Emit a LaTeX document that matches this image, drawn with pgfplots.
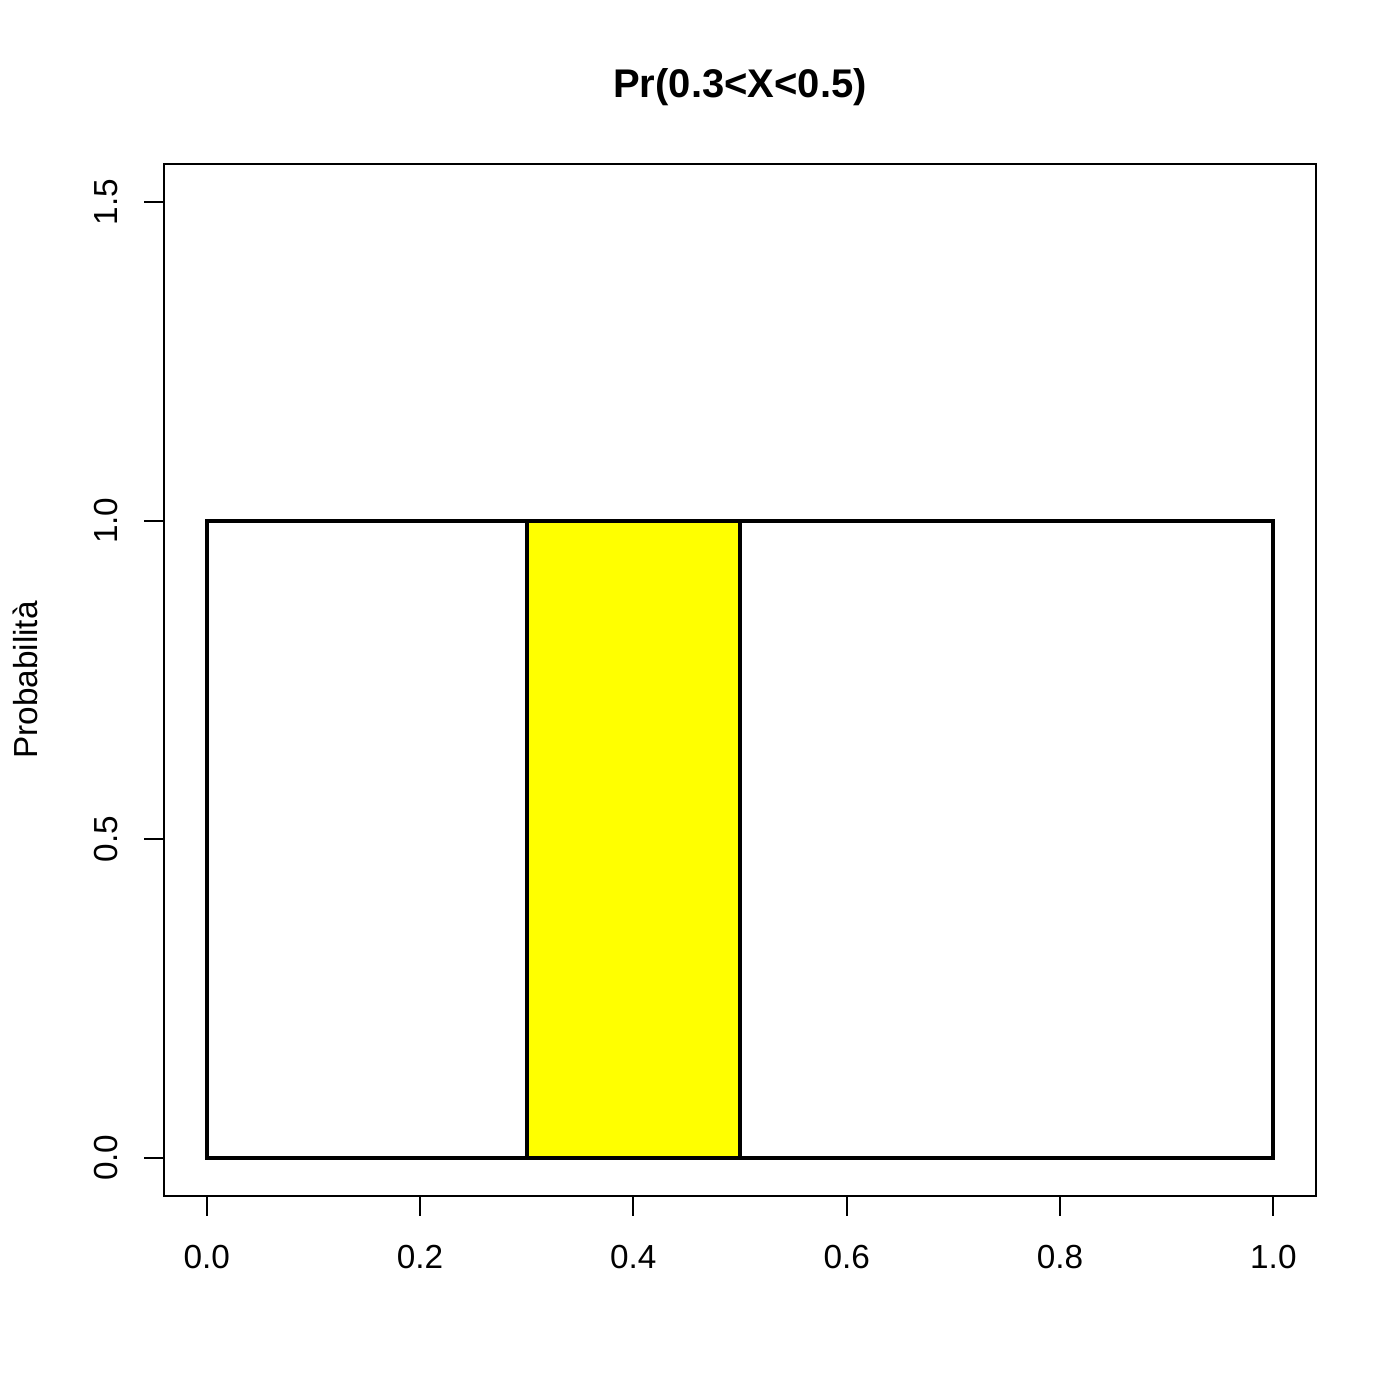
\documentclass[border=0pt]{standalone}
\usepackage{pgfplots}
\pgfplotsset{compat=1.18}
\usepackage{fontspec}
\setmainfont{Liberation Sans}
\definecolor{ryellow}{RGB}{255,255,0}
\begin{document}
\fontsize{12bp}{14bp}\selectfont
\begin{tikzpicture}[x=1bp,y=1bp]
\path[use as bounding box] (0,0) rectangle (504,504);
\begin{axis}[
  at={(59.04bp,73.44bp)}, anchor=south west,
  scale only axis, width=414.72bp, height=371.52bp,
  xmin=-0.04, xmax=1.04, ymin=-0.06, ymax=1.56,
  axis line style={line width=0.75bp},
  xtick={0,0.2,0.4,0.6,0.8,1.0},
  ytick={0,0.5,1.0,1.5},
  tick align=outside, tick pos=left,
  major tick length=7.2bp,
  tick style={line width=0.75bp, black},
  /pgf/number format/assume math mode=true,
  /pgf/number format/.cd, fixed, fixed zerofill, precision=1, /pgfplots/.cd,
  ticklabel style={font=\fontsize{12bp}{14bp}\selectfont},
  xticklabel style={anchor=north, yshift=-6.4bp},
  yticklabel style={rotate=90, anchor=south, yshift=5.4bp},
  title={\bfseries Pr(0.3<X<0.5)},
  title style={font=\fontsize{14.4bp}{16bp}\selectfont, at={(0.5,1)}, anchor=center, yshift=21.6bp},
  ylabel={Probabilità},
  ylabel style={font=\fontsize{12bp}{14bp}\selectfont, at={(axis description cs:-0.1207,0.5)}, anchor=center},
  clip=false,
]
\addplot[fill=white, draw=black, line width=1.5bp] coordinates {(0,0) (0,1) (1,1) (1,0)} -- cycle;
\addplot[fill=ryellow, draw=black, line width=1.5bp] coordinates {(0.3,0) (0.3,1) (0.5,1) (0.5,0)} -- cycle;
\end{axis}
\end{tikzpicture}
\end{document}
